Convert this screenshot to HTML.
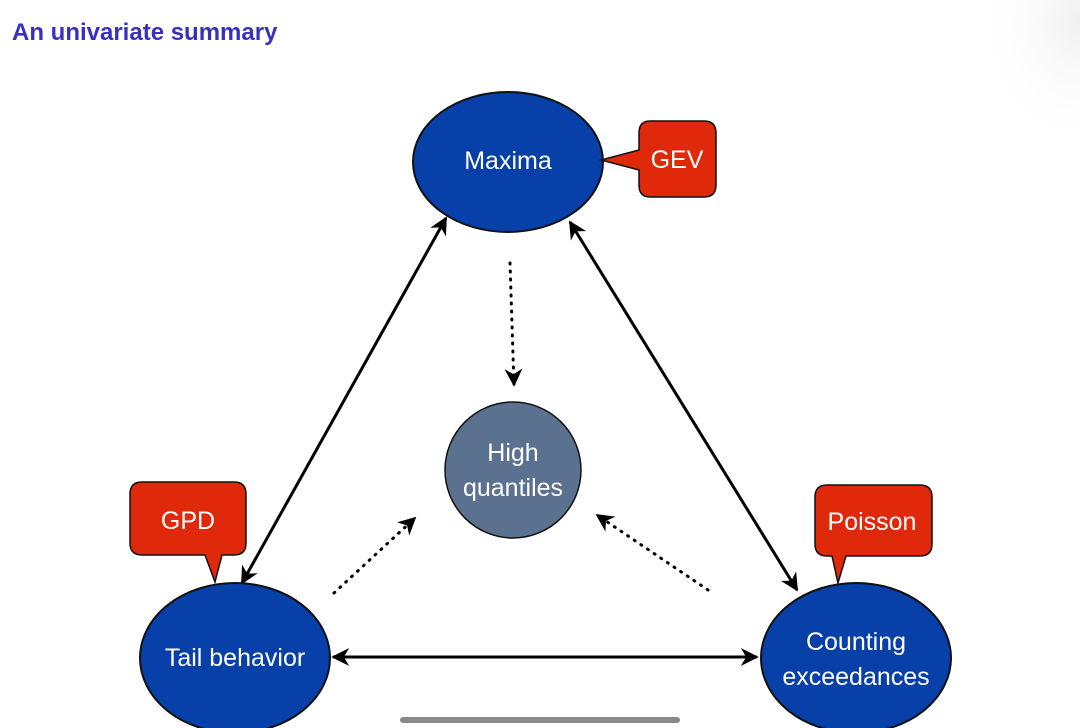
<!DOCTYPE html>
<html><head><meta charset="utf-8"><style>
html,body{margin:0;padding:0;background:#fff;}
#wrap{position:relative;width:1080px;height:728px;overflow:hidden;background:#fff;}
svg text{font-family:"Liberation Sans",sans-serif;}
</style></head><body>
<div id="wrap">
<svg width="1080" height="728" viewBox="0 0 1080 728">
<defs>
<marker id="ah" viewBox="0 0 10 10" refX="9" refY="5" markerWidth="6" markerHeight="6" orient="auto-start-reverse"><path d="M0,0 L10,5 L0,10 L3,5 z" fill="#000"/></marker>
<radialGradient id="shade" cx="1" cy="0.1" r="0.6"><stop offset="0" stop-color="#f0f0f0"/><stop offset="1" stop-color="#fff" stop-opacity="0"/></radialGradient>
</defs>
<rect x="900" y="0" width="180" height="220" fill="url(#shade)"/>
<text x="12" y="40" font-size="24" font-weight="bold" fill="#3a30c0">An univariate summary</text>

<g stroke="#000" stroke-width="3" fill="none">
<line x1="446" y1="218" x2="242" y2="583" marker-start="url(#ah)" marker-end="url(#ah)"/>
<line x1="570" y1="222" x2="797" y2="590" marker-start="url(#ah)" marker-end="url(#ah)"/>
<line x1="333" y1="657" x2="757" y2="657" marker-start="url(#ah)" marker-end="url(#ah)"/>
</g>
<g stroke="#000" stroke-width="3" stroke-dasharray="1 7" stroke-linecap="round" fill="none">
<line x1="510" y1="263" x2="514" y2="385" marker-end="url(#ah)"/>
<line x1="334" y1="593" x2="415" y2="518" marker-end="url(#ah)"/>
<line x1="708" y1="590" x2="597" y2="515" marker-end="url(#ah)"/>
</g>

<g>
<ellipse cx="508" cy="162" rx="95" ry="70" fill="#0640a8" stroke="#111" stroke-width="2"/>
<text x="508" y="169" font-size="25" fill="#fff" text-anchor="middle">Maxima</text>
</g>
<g>
<path d="M650,121 H704 Q716,121 716,133 V185 Q716,197 704,197 H650 Q639,197 639,185 V170 L601,160 L639,150 V133 Q639,121 650,121 Z" fill="#e0280a" stroke="#111" stroke-width="1.5"/>
<text x="677" y="168" font-size="25" fill="#fff" text-anchor="middle">GEV</text>
</g>

<g>
<circle cx="513" cy="470" r="68" fill="#5b7190" stroke="#111" stroke-width="1.5"/>
<text x="513" y="461" font-size="25" fill="#fff" text-anchor="middle">High</text>
<text x="513" y="496" font-size="25" fill="#fff" text-anchor="middle">quantiles</text>
</g>

<g>
<ellipse cx="235" cy="658" rx="95" ry="75" fill="#0640a8" stroke="#111" stroke-width="2"/>
<text x="235" y="666" font-size="25" fill="#fff" text-anchor="middle">Tail behavior</text>
</g>
<g>
<path d="M142,482 H234 Q246,482 246,494 V543 Q246,555 234,555 H222 L215,582 L205,555 H142 Q130,555 130,543 V494 Q130,482 142,482 Z" fill="#e0280a" stroke="#111" stroke-width="1.5"/>
<text x="188" y="529" font-size="25" fill="#fff" text-anchor="middle">GPD</text>
</g>

<g>
<ellipse cx="856" cy="658" rx="95" ry="75" fill="#0640a8" stroke="#111" stroke-width="2"/>
<text x="856" y="650" font-size="25" fill="#fff" text-anchor="middle">Counting</text>
<text x="856" y="685" font-size="25" fill="#fff" text-anchor="middle">exceedances</text>
</g>
<g>
<path d="M827,485 H920 Q932,485 932,497 V544 Q932,556 920,556 H846 L838,583 L832,556 H827 Q815,556 815,544 V497 Q815,485 827,485 Z" fill="#e0280a" stroke="#111" stroke-width="1.5"/>
<text x="872" y="530" font-size="25" fill="#fff" text-anchor="middle">Poisson</text>
</g>

<rect x="400" y="717" width="280" height="6" rx="3" fill="#8a8a8a"/>
</svg>
</div>
</body></html>
